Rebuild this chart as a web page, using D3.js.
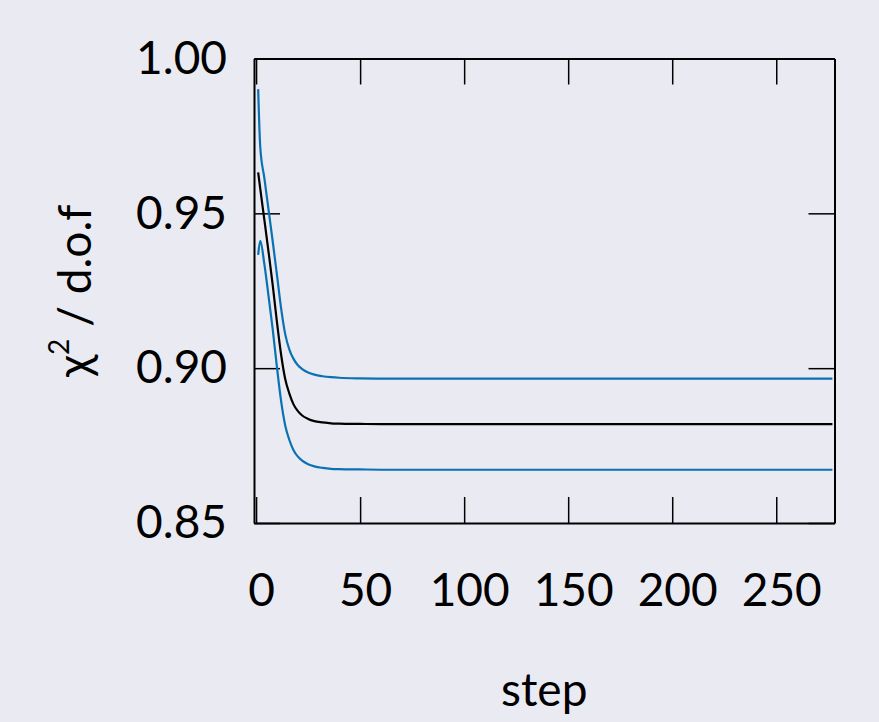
<!DOCTYPE html>
<html>
<head>
<meta charset="utf-8">
<script src="https://cdn.jsdelivr.net/npm/d3@7"></script>
<style>
  html, body { margin: 0; padding: 0; background: #eaeaf2; }
  svg { display: block; }
  text { font-family: Lato, "Noto Sans", sans-serif; fill: #000; }
</style>
</head>
<body>
<svg id="chart" width="879" height="722"></svg>
<script>
// Optimisation history: reduced chi-square per step, with its ±1σ band
const steps = [1, 2, 4, 6, 8, 10, 12, 14, 16, 18, 20, 22, 25, 28, 32, 36, 40, 50, 65, 100, 150, 200, 250, 277];
const chi2 = [0.9632, 0.9580, 0.9478, 0.9375, 0.9268, 0.9150, 0.9045, 0.8965, 0.8918, 0.8883, 0.8862, 0.8848,
              0.8836, 0.8829, 0.8825, 0.8822, 0.8821, 0.8820, 0.8819, 0.8819, 0.8819, 0.8819, 0.8819, 0.8819];
const chi2Upper = [0.9901, 0.9715, 0.9613, 0.9511, 0.9409, 0.9303, 0.9195, 0.9110, 0.9060, 0.9030, 0.9010, 0.8998,
                   0.8986, 0.8979, 0.8974, 0.8971, 0.8969, 0.8967, 0.8966, 0.8966, 0.8966, 0.8966, 0.8966, 0.8966];
const chi2Lower = [0.9366, 0.9411, 0.9335, 0.9232, 0.9125, 0.9005, 0.8895, 0.8815, 0.8768, 0.8735, 0.8715, 0.8702,
                   0.8690, 0.8683, 0.8678, 0.8675, 0.8674, 0.8673, 0.8672, 0.8672, 0.8672, 0.8672, 0.8672, 0.8672];
const xTicks = [0, 50, 100, 150, 200, 250];
const yTicks = [0.85, 0.90, 0.95, 1.00];

const margin = { left: 254, right: 879 - 834.5, top: 58.5, bottom: 722 - 523 };
const W = 879, H = 722;
const iw = W - margin.left - margin.right;
const ih = H - margin.top - margin.bottom;

const svg = d3.select("#chart");
const g = svg.append("g").attr("transform", `translate(${margin.left},${margin.top})`);

const x = d3.scaleLinear().domain([-1, 278]).range([0, iw]);
const y = d3.scaleLinear().domain([0.85, 1.00]).range([ih, 0]);

const fontFamily = "Lato, 'Noto Sans', sans-serif";
const fontSize = 46;
const tickLen = 26;

function styleAxis(sel) {
  sel.select(".domain").attr("stroke", "#000").attr("stroke-width", 2);
  sel.selectAll(".tick line").attr("stroke", "#000").attr("stroke-width", 1.5);
  sel.selectAll(".tick text").attr("font-size", fontSize).attr("font-family", fontFamily).attr("fill", "#000");
}

// bottom axis with labels
g.append("g").attr("transform", `translate(0,${ih})`)
  .call(d3.axisBottom(x).tickValues(xTicks).tickFormat(d3.format("d")).tickSize(-tickLen).tickSizeOuter(0).tickPadding(50))
  .call(styleAxis)
  .call(s => s.selectAll(".tick text").attr("dx", 5));

// top axis, ticks only
g.append("g")
  .call(d3.axisTop(x).tickValues(xTicks).tickFormat("").tickSize(-tickLen).tickSizeOuter(0))
  .call(styleAxis);

// left axis with labels
g.append("g")
  .call(d3.axisLeft(y).tickValues(yTicks).tickFormat(d3.format(".2f")).tickSize(-tickLen).tickSizeOuter(0).tickPadding(27))
  .call(styleAxis);

// right axis, ticks only
g.append("g").attr("transform", `translate(${iw},0)`)
  .call(d3.axisRight(y).tickValues(yTicks).tickFormat("").tickSize(-tickLen).tickSizeOuter(0))
  .call(styleAxis);

// curves
const line = d3.line()
  .x((d, i) => x(steps[i]))
  .y(d => y(d))
  .curve(d3.curveMonotoneX);

const blue = "#0a72b3";
g.append("path").datum(chi2Upper).attr("d", line)
  .attr("fill", "none").attr("stroke", blue).attr("stroke-width", 2.2);
g.append("path").datum(chi2Lower).attr("d", line)
  .attr("fill", "none").attr("stroke", blue).attr("stroke-width", 2.2);
g.append("path").datum(chi2).attr("d", line)
  .attr("fill", "none").attr("stroke", "#000").attr("stroke-width", 2.2);

// axis titles
svg.append("text")
  .attr("x", margin.left + iw / 2).attr("y", 706)
  .attr("text-anchor", "middle").attr("font-size", fontSize)
  .text("step");

const yt = svg.append("text")
  .attr("transform", `translate(90,${margin.top + ih / 2}) rotate(-90)`)
  .attr("text-anchor", "middle").attr("font-size", fontSize);
yt.append("tspan").text("χ");
yt.append("tspan").attr("font-size", 28).attr("dy", "-0.75em").text("2");
yt.append("tspan").attr("dy", "0.48em").text(" / d.o.f");
</script>
</body>
</html>
